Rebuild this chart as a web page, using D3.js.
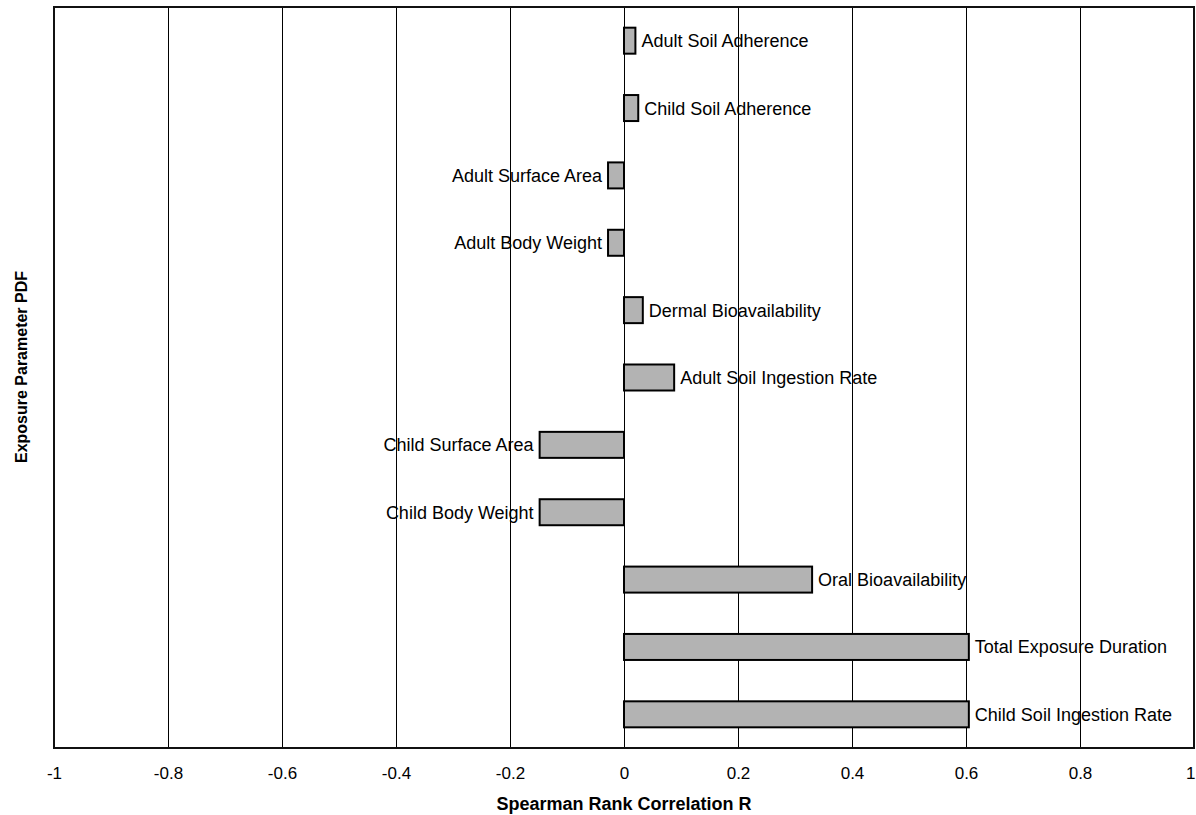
<!DOCTYPE html>
<html>
<head>
<meta charset="utf-8">
<script src="https://cdn.jsdelivr.net/npm/d3@7"></script>
<style>
  body { margin: 0; background: #fff; }
  svg { display: block; font-family: "Liberation Sans", Arial, sans-serif; }
  .tick text { font-size: 17px; fill: #000; }
  .barLabel { font-size: 18px; fill: #000; }
  .axisTitle { font-weight: bold; fill: #000; }
</style>
</head>
<body>
<div id="chart"></div>
<script>
"use strict";

// exposure parameters, top to bottom
let params = [
  "Adult Soil Adherence",
  "Child Soil Adherence",
  "Adult Surface Area",
  "Adult Body Weight",
  "Dermal Bioavailability",
  "Adult Soil Ingestion Rate",
  "Child Surface Area",
  "Child Body Weight",
  "Oral Bioavailability",
  "Total Exposure Duration",
  "Child Soil Ingestion Rate"
];

// spearman rank correlation per parameter
let corr = [0.020, 0.025, -0.028, -0.028, 0.033, 0.088, -0.148, -0.148, 0.330, 0.605, 0.605];

let xTicks = [-1, -0.8, -0.6, -0.4, -0.2, 0, 0.2, 0.4, 0.6, 0.8, 1];

let width = 1196;
let height = 815;

let plot = { left: 54, right: 1194, top: 7, bottom: 748 };

let svg = d3.select("#chart").append("svg")
  .attr("width", width)
  .attr("height", height)
  .attr("viewBox", [0, 0, width, height].join(" "));

let x = d3.scaleLinear()
  .domain([-1, 1])
  .range([plot.left, plot.right]);

let y = d3.scaleBand()
  .domain(params)
  .range([plot.top, plot.bottom])
  .paddingInner(0.614)
  .paddingOuter(0.307);

let data = params.map((p, i) => ({ name: p, value: corr[i] }));

// vertical grid lines
svg.append("g")
  .selectAll("line")
  .data(xTicks.slice(1, -1))
  .enter().append("line")
  .attr("x1", d => x(d))
  .attr("x2", d => x(d))
  .attr("y1", plot.top)
  .attr("y2", plot.bottom)
  .attr("stroke", "#000")
  .attr("stroke-width", 1)
  .attr("shape-rendering", "crispEdges");

// bars
svg.append("g")
  .selectAll("rect")
  .data(data)
  .enter().append("rect")
  .attr("x", d => x(Math.min(0, d.value)))
  .attr("y", d => y(d.name))
  .attr("width", d => Math.abs(x(d.value) - x(0)))
  .attr("height", y.bandwidth())
  .attr("fill", "#b3b3b3")
  .attr("stroke", "#000")
  .attr("stroke-width", 2);

// bar labels
svg.append("g")
  .selectAll("text")
  .data(data)
  .enter().append("text")
  .attr("class", "barLabel")
  .attr("x", d => d.value >= 0 ? x(d.value) + 6 : x(d.value) - 6)
  .attr("y", d => y(d.name) + y.bandwidth() / 2 + 6.5)
  .style("text-anchor", d => d.value >= 0 ? "start" : "end")
  .text(d => d.name);

// frame
svg.append("rect")
  .attr("x", plot.left)
  .attr("y", plot.top)
  .attr("width", plot.right - plot.left)
  .attr("height", plot.bottom - plot.top)
  .attr("fill", "none")
  .attr("stroke", "#111")
  .attr("stroke-width", 2);

// x axis tick labels
let xAxis = d3.axisBottom(x)
  .tickValues(xTicks)
  .tickSize(0)
  .tickPadding(0)
  .tickFormat(d => String(+d.toFixed(1)));

let axisG = svg.append("g")
  .attr("transform", `translate(0, ${plot.bottom})`)
  .call(xAxis);

axisG.select(".domain").remove();
axisG.selectAll(".tick text")
  .attr("dy", null)
  .attr("y", 31)
  .style("font-family", "\"Liberation Sans\", Arial, sans-serif");

// last label sits on the window edge, keep it inside
axisG.selectAll(".tick text")
  .filter(d => d === 1)
  .attr("x", 1)
  .style("text-anchor", "end");

// axis titles
svg.append("text")
  .attr("class", "axisTitle")
  .attr("x", x(0))
  .attr("y", 810)
  .style("font-size", "18px")
  .style("text-anchor", "middle")
  .text("Spearman Rank Correlation R");

svg.append("text")
  .attr("class", "axisTitle")
  .attr("transform", `translate(27, 367) rotate(-90)`)
  .style("font-size", "16px")
  .style("text-anchor", "middle")
  .text("Exposure Parameter PDF");
</script>
</body>
</html>
